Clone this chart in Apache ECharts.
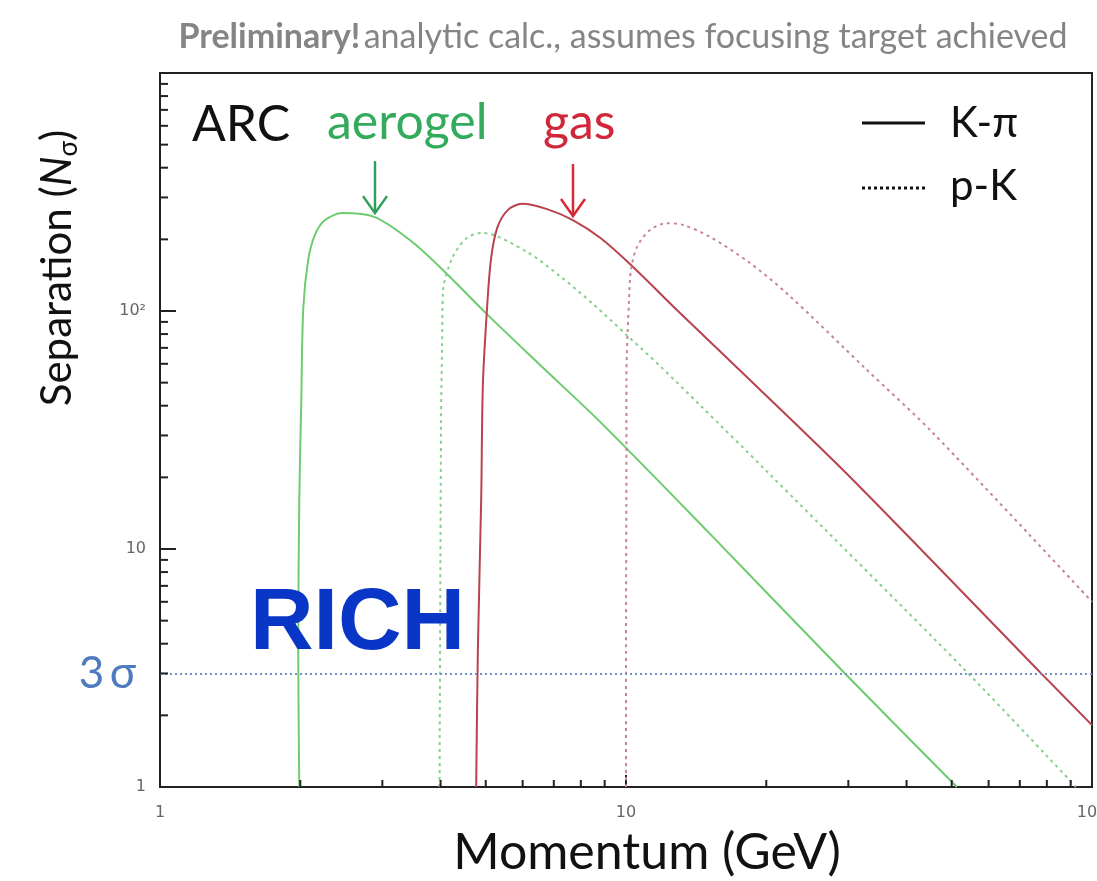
<!DOCTYPE html>
<html>
<head>
<meta charset="utf-8">
<script src="https://cdn.jsdelivr.net/npm/echarts@6/dist/echarts.min.js"></script>
<style>
  html, body { margin: 0; padding: 0; background: #ffffff; }
  #chart { width: 1097px; height: 881px; }
</style>
</head>
<body>
<div id="chart"></div>
<script>
// Separation power (in sigma) versus momentum for the ARC RICH radiators.
// Each point is [momentum in GeV, separation in N_sigma].
const aerogelKpi = [
  [1.99, 1], [1.98, 3.8], [1.99, 16], [2.01, 42], [2.03, 103], [2.08, 164],
  [2.15, 209], [2.26, 241], [2.46, 258], [2.89, 248], [3.49, 194], [4.19, 139],
  [5.03, 97], [6.5, 60], [8.8, 34.2], [15, 11.8], [29.5, 3], [51.3, 1]
];
const aerogelPK = [
  [3.98, 1], [3.99, 3.7], [4.01, 34], [4.03, 71], [4.05, 122], [4.25, 169],
  [4.56, 203], [4.91, 213], [6.13, 177], [7.22, 140], [8.5, 107], [10.05, 79],
  [11.83, 58.7], [14.4, 40.3], [20.1, 21.1], [53.9, 3.04], [92.4, 1]
];
const gasKpi = [
  [4.77, 1], [4.81, 3.8], [4.89, 16.4], [4.93, 49], [5.03, 101], [5.13, 164],
  [5.29, 223], [5.58, 266], [5.98, 282], [6.77, 268], [7.69, 241], [8.8, 203],
  [10.25, 156], [13.06, 98], [18.45, 51.3], [30.7, 19.5], [77.3, 3.04], [100, 1.82]
];
const gasPK = [
  [10.0, 1], [10.0, 3.8], [10.02, 26], [10.02, 51], [10.15, 111], [10.25, 149],
  [10.56, 186], [11.26, 219], [12.25, 234], [13.25, 230], [15.14, 205],
  [18.45, 159], [22.2, 118], [32.9, 56.5], [45.6, 30.7], [100, 6.0]
];

const xMinorTicks = [2, 3, 4, 5, 6, 7, 8, 9, 20, 30, 40, 50, 60, 70, 80, 90];
const yMinorTicks = [2, 3, 4, 5, 6, 7, 8, 9, 20, 30, 40, 50, 60, 70, 80, 90,
                     200, 300, 400, 500, 600, 700, 800, 900];
const yTickLabels = { 1: '1', 10: '10', 100: '10\u00B2', 1000: '' };
const threeSigma = 3;
// arrow tips point at the K-pi maxima of each radiator
const aerogelArrowTip = [2.89, 248];
const gasArrowTip = [7.69, 241];

const GREEN = '#6dcc6d';
const GREEN_DOT = '#86cf8c';
const RED = '#b8434d';
const RED_DOT = '#c68592';
const TEXT_FONT = 'Lato, "Open Sans", sans-serif';

const chart = echarts.init(document.getElementById('chart'), null, { renderer: 'canvas' });

function curve(name, data, color, dotted) {
  return {
    name: name,
    type: 'line',
    data: data,
    showSymbol: false,
    symbol: 'none',
    smooth: 0.3,
    clip: true,
    lineStyle: { color: color, width: 2, type: dotted ? [3, 4] : 'solid' },
    z: 3
  };
}

const series = [
  curve('aerogel K-\u03C0', aerogelKpi, GREEN, false),
  curve('aerogel p-K', aerogelPK, GREEN_DOT, true),
  curve('gas K-\u03C0', gasKpi, RED, false),
  curve('gas p-K', gasPK, RED_DOT, true)
];
series[0].markLine = {
  silent: true,
  symbol: 'none',
  lineStyle: { color: '#6f93c4', width: 2, type: [2, 3] },
  label: {
    show: true, position: 'start', distance: 24,
    formatter: '3\u2009\u03C3', color: '#4e7bbd', fontSize: 44, fontFamily: TEXT_FONT
  },
  data: [{ yAxis: threeSigma }]
};

chart.setOption({
  animation: false,
  backgroundColor: '#ffffff',
  grid: {
    left: 160, right: 5, top: 73, bottom: 94,
    containLabel: false, outerBoundsMode: 'none',
    show: true, borderColor: '#222', borderWidth: 2, backgroundColor: 'transparent'
  },
  xAxis: {
    type: 'log', logBase: 10, min: 1, max: 100,
    axisLine: { show: true, lineStyle: { color: '#222', width: 2 } },
    axisTick: { show: true, inside: true, length: 12, lineStyle: { color: '#222', width: 2 } },
    axisLabel: { margin: 18, color: '#666', fontSize: 16, fontFamily: 'DejaVu Sans' },
    splitLine: { show: false }
  },
  yAxis: {
    type: 'log', logBase: 10, min: 1, max: 1000,
    axisLine: { show: true, lineStyle: { color: '#222', width: 2 } },
    axisTick: { show: true, inside: true, length: 16, lineStyle: { color: '#222', width: 2 } },
    axisLabel: {
      margin: 14, color: '#666', fontSize: 16, fontFamily: 'DejaVu Sans',
      formatter: v => (yTickLabels[Math.round(v)] !== undefined ? yTickLabels[Math.round(v)] : '')
    },
    splitLine: { show: false }
  },
  series: series
});

// Minor ticks, annotations and legend drawn on top of the plot
const g = [];
const bottomPx = chart.convertToPixel({ yAxisIndex: 0 }, 1);
const leftPx = chart.convertToPixel({ xAxisIndex: 0 }, 1);
xMinorTicks.forEach(v => {
  const p = chart.convertToPixel({ xAxisIndex: 0 }, v);
  g.push({ type: 'line', shape: { x1: p, y1: bottomPx, x2: p, y2: bottomPx - 7 },
           style: { stroke: '#222', lineWidth: 2 }, silent: true, z: 10 });
});
yMinorTicks.forEach(v => {
  const p = chart.convertToPixel({ yAxisIndex: 0 }, v);
  g.push({ type: 'line', shape: { x1: leftPx, y1: p, x2: leftPx + 8, y2: p },
           style: { stroke: '#222', lineWidth: 2 }, silent: true, z: 10 });
});

function arrow(tip, color) {
  const pt = chart.convertToPixel({ xAxisIndex: 0, yAxisIndex: 0 }, tip);
  const x = Math.round(pt[0]), y = pt[1] - 4;
  g.push({ type: 'line', shape: { x1: x, y1: y - 52, x2: x, y2: y },
           style: { stroke: color, lineWidth: 2.5 }, silent: true, z: 10 });
  g.push({ type: 'polyline', shape: { points: [[x - 12, y - 17], [x, y], [x + 12, y - 17]] },
           style: { stroke: color, lineWidth: 2.5, fill: null }, silent: true, z: 10 });
}
arrow(aerogelArrowTip, '#2f9e5a');
arrow(gasArrowTip, '#d42b35');

function text(str, x, y, font, fill, align) {
  g.push({ type: 'text', silent: true, z: 10,
           style: { text: str, x: x, y: y, font: font, fill: fill,
                    textAlign: align || 'left', textVerticalAlign: 'middle', verticalAlign: 'middle' } });
}

// header line
g.push({ type: 'text', silent: true, z: 10,
  style: {
    text: '{b|Preliminary!} {r|analytic calc., assumes focusing target achieved}',
    x: 623, y: 37, textAlign: 'center', textVerticalAlign: 'middle', verticalAlign: 'middle',
    rich: {
      b: { fontSize: 34, fontWeight: 'bold', fontFamily: TEXT_FONT, fill: '#858585' },
      r: { fontSize: 34, fontFamily: TEXT_FONT, fill: '#858585' }
    }
  }
});

text('ARC', 192, 125, '50px ' + TEXT_FONT, '#111');
text('aerogel', 327, 123, '50px ' + TEXT_FONT, '#33ab5c');
text('gas', 543, 123, '50px ' + TEXT_FONT, '#d0283a');
text('RICH', 250, 625, 'bold 88px "Liberation Sans", Arial, sans-serif', '#0a36c8');

// line-style key
g.push({ type: 'line', shape: { x1: 862, y1: 123, x2: 925, y2: 123 },
         style: { stroke: '#111', lineWidth: 3 }, silent: true, z: 10 });
g.push({ type: 'line', shape: { x1: 862, y1: 188, x2: 925, y2: 188 },
         style: { stroke: '#111', lineWidth: 3, lineDash: [3, 3] }, silent: true, z: 10 });
text('K-\u03C0', 950, 123, '42px ' + TEXT_FONT, '#111');
text('p-K', 950, 186, '42px ' + TEXT_FONT, '#111');

// axis titles
text('Momentum (GeV)', 647, 853, '50px ' + TEXT_FONT, '#111', 'center');
g.push({ type: 'text', silent: true, z: 10, rotation: Math.PI / 2, x: 57, y: 268,
  style: {
    text: '{a|Separation (}{i|N}{s|\u03C3}{a|)}',
    x: 0, y: 0, textAlign: 'center', textVerticalAlign: 'middle', verticalAlign: 'middle',
    rich: {
      a: { fontSize: 42, fontFamily: TEXT_FONT, fill: '#111', lineHeight: 50 },
      i: { fontSize: 42, fontFamily: TEXT_FONT, fontStyle: 'italic', fill: '#111', lineHeight: 50 },
      s: { fontSize: 26, fontFamily: TEXT_FONT, fill: '#111', lineHeight: 50, verticalAlign: 'bottom' }
    }
  }
});

chart.setOption({ graphic: g });
</script>
</body>
</html>
